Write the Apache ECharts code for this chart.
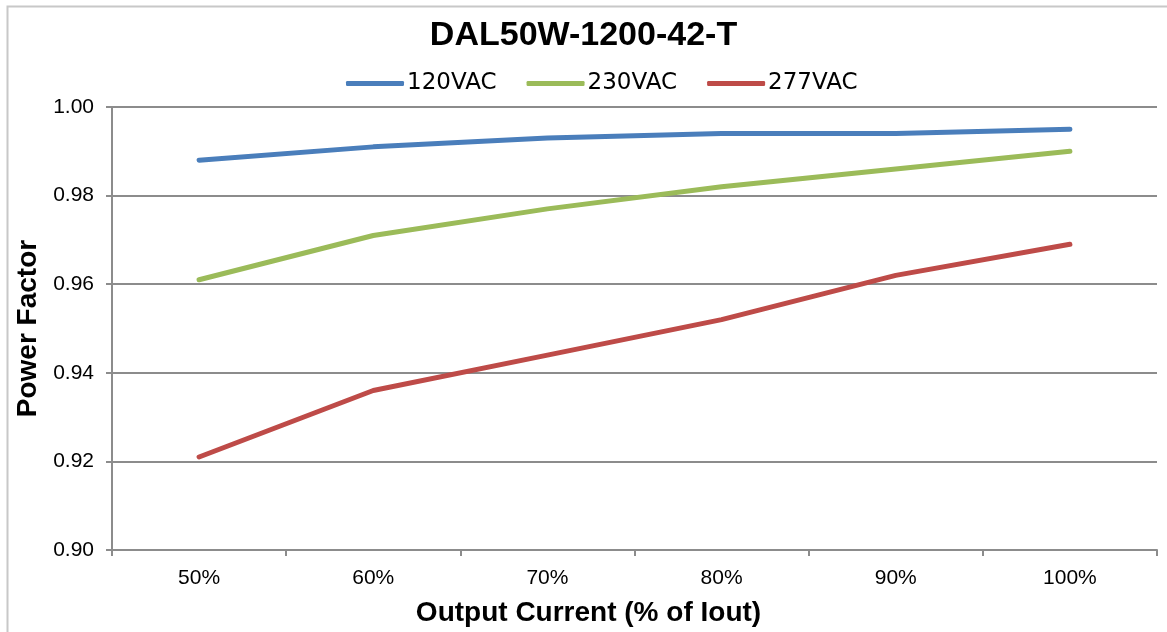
<!DOCTYPE html>
<html><head><meta charset="utf-8">
<script src="https://cdn.jsdelivr.net/npm/echarts@6/dist/echarts.min.js"></script>
<style>html,body{margin:0;padding:0;background:#fff}#c{width:1167px;height:632px}</style>
</head><body><div id="c"></div>
<script>
const categories = ['50%','60%','70%','80%','90%','100%'];
const v120 = [0.988,0.991,0.993,0.994,0.994,0.995];
const v230 = [0.961,0.971,0.977,0.982,0.986,0.990];
const v277 = [0.921,0.936,0.944,0.952,0.962,0.969];
const seriesNames = ['120VAC','230VAC','277VAC'];
const colors = ['#4a7ebb','#9bbb59','#be4b48'];
const chart = echarts.init(document.getElementById('c'));
const font = 'Liberation Sans, Arial, Helvetica, sans-serif';
function mk(name, data, color){
  return {name, type:'line', data, showSymbol:false, symbol:'none',
    lineStyle:{color, width:5, cap:'round'}, itemStyle:{color}};
}
chart.setOption({
  animation:false,
  graphic:[{type:'rect', left:5, top:4, shape:{width:1200, height:700}, style:{fill:'none', stroke:'#c8c8c8', lineWidth:2}, silent:true}],
  title:{text:'DAL50W-1200-42-T', left:'center', top:14, textStyle:{fontFamily:font, fontSize:34, fontWeight:'bold', color:'#000'}},
  legend:{top:67, left:341, itemWidth:58, itemHeight:5, itemGap:30, icon:'roundRect',
    textStyle:{fontFamily:'DejaVu Sans, sans-serif', fontSize:23, color:'#000', padding:[0,0,0,-2]},
    data:seriesNames},
  grid:{left:112, right:10, top:107, bottom:82},
  xAxis:{type:'category', data:categories, boundaryGap:true,
    name:'Output Current (% of Iout)', nameLocation:'middle', nameGap:49,
    nameTextStyle:{fontFamily:font, fontSize:28, fontWeight:'bold', color:'#000', padding:[0,92,0,0]},
    axisLine:{lineStyle:{color:'#8c8c8c', width:2}},
    axisTick:{show:true, length:6, lineStyle:{color:'#8c8c8c', width:2}},
    axisLabel:{fontFamily:font, fontSize:21, color:'#000', margin:18}},
  yAxis:{type:'value', min:0.90, max:1.00, interval:0.02,
    name:'Power Factor', nameLocation:'middle', nameGap:68,
    nameTextStyle:{fontFamily:font, fontSize:28, fontWeight:'bold', color:'#000'},
    axisLine:{show:true, lineStyle:{color:'#8c8c8c', width:2}},
    axisTick:{show:true, length:6, lineStyle:{color:'#8c8c8c', width:2}},
    splitLine:{lineStyle:{color:'#8c8c8c', width:2}},
    axisLabel:{fontFamily:font, fontSize:21, color:'#000', margin:18, formatter:v=>v.toFixed(2)}},
  series:[mk(seriesNames[0], v120, colors[0]), mk(seriesNames[1], v230, colors[1]), mk(seriesNames[2], v277, colors[2])]
});
</script></body></html>
